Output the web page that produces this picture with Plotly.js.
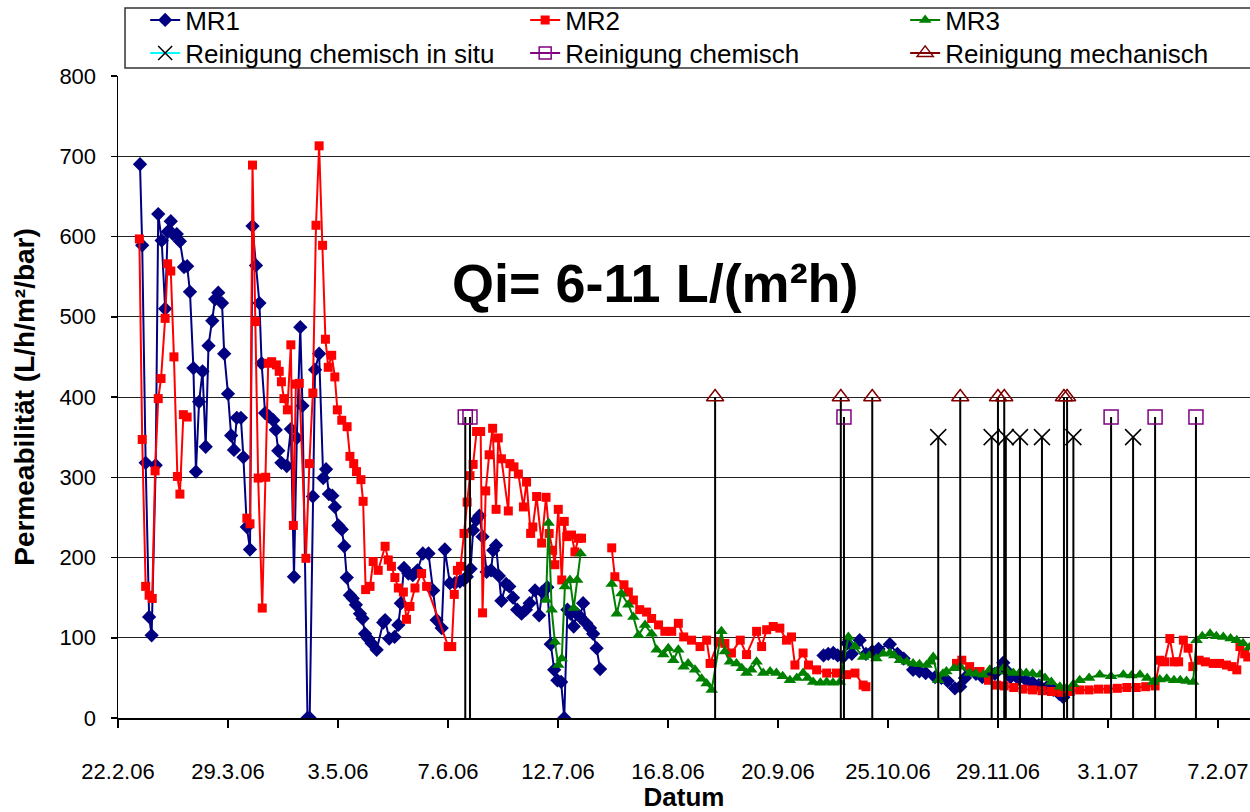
<!DOCTYPE html>
<html><head><meta charset="utf-8">
<script src="https://cdn.plot.ly/plotly-3.0.1.min.js"></script>
<style>html,body{margin:0;padding:0;background:#fff}#chart{width:1250px;height:812px}</style>
</head><body><div id="chart"></div>
<script>
// x values: days since 22.2.06 (start of x axis)
const tickDays = [0,35,70,105,140,175,210,245,280,315,350];
const tickLabels = ['22.2.06','29.3.06','3.5.06','7.6.06','12.7.06','16.8.06','20.9.06','25.10.06','29.11.06','3.1.07','7.2.07'];

const mr1Day = [7,7.7,8.8,9.9,10.7,12,12.8,13.9,15,15.8,16.8,17.5,18.7,19.7,21,22,22.9,24,24.8,25.8,26.9,27.9,28.8,30,30.9,31.9,33.1,33.8,35,36,36.9,37.8,39.1,39.9,41,42,42.8,43.9,45,45.7,46.8,48,49.4,50.2,51,52,53.7,55,56,56.9,58,58.7,60.3,61,62,62.7,64,65.3,66.2,67.1,68.2,69,70.1,71.2,72,72.8,73.8,74.7,75.7,77,77.8,78.6,79.6,80.7,82.3,84.4,85,86.3,88,89.2,90,91,92.4,93.8,95.3,97,98.8,100.3,101.4,103,104,105.6,107.2,108.8,110,111,112.2,113,114,115,116,117.3,118.7,119.4,120.3,121.2,122,123.5,124.5,125.7,127,128.4,129.8,131,132.7,134,135,136.6,137.7,138.8,139.8,141,142,143,144,145,146,147,148,149,150.2,151.2,152.3,153.4,null,224.5,226,227.6,229,230.7,232,233.5,236,238,240,242,245.6,248,250,253,255,257,260,262,264,266.3,268,269.5,271,273,275,277,279,281.7,283,284,286.5,289,291,293,295.5,297.6,299.5,300.8];
const mr1Val = [690,589,318,126,103,315,628,595,510,606,619,603,603,594,562,563,531,436,307,394,432,338,464,495,522,530,517,454,404,352,334,374,374,325,238,210,613,564,517,442,380,376,371,359,333,318,314,360,176,349,487,389,0,0,276,434,454,299,310,279,277,263,240,235,214,175,153,149,141,130,124,105,99,93,85,119,122,99,101,116,143,187,180,178,184,205,205,159,122,112,210,168,168,170,172,176,186,234,247,252,226,182,184,209,215,177,146,167,164,150,135,130,135,143,159,128,157,163,92,60,47,45,0,135,130,114,130,126,143,118,112,105,87,61,null,78,80,81,78,76,93,80,97,80,83,86,92,80,74,60,58,56,51,50,46,37,39,50,60,55,51,52,55,69,58,51,49,47,44,41,38,35,30,26];

const mr2Day = [6.8,7.7,8.8,9.9,10.9,11.8,12.8,13.7,15,15.8,16.8,17.8,18.9,19.7,20.8,22,null,41,42,42.8,43.8,44.6,45.9,47,47.8,48.9,50.4,51.3,52,52.8,53.9,55,55.8,56.6,57.7,59.8,60.9,62,63,64,65.1,66,66.9,68,69,69.8,71.2,72.9,73.8,75,75.9,77.3,78,78.8,80.2,81.2,82.8,85,86,87,88.1,89.2,90.8,91.8,92.9,94.5,96.6,98.2,105.1,106.2,107,108,109,110.1,111.1,112,113,114.1,115.4,116,117,118.1,119.2,120.3,121,122,124.2,124.7,126,127.4,129,130,131.3,132,133.2,134.8,136.2,137.2,138.3,139,140.1,141.2,142,142.8,144.3,145.4,146.5,147.5,null,157.1,158.1,161,162.4,164,166,168.2,169.8,172,174,176.2,178.3,180,182.5,185.2,187.3,188.4,191,193.1,195.2,198,200,203.2,204.8,206.4,208.5,210.6,212.7,214.3,215.4,218,219.7,222.3,225.5,228.6,231.8,234.5,237.1,238,null,266.8,268.5,271,274.3,277,279.5,282,285,288,291,294,297,300,303,306,309,312,315,318,321,324,327,330,331.5,333,334.7,336,337.5,339,340.5,342,344,346,348.5,350.5,352.7,354.5,356,357,358.5,359.5];
const mr2Val = [597,347,164,153,149,308,398,423,498,566,557,450,301,279,378,375,null,249,242,689,494,299,137,300,442,444,440,432,419,398,384,465,240,416,417,199,317,405,614,713,589,472,437,452,425,384,371,363,326,317,307,297,270,160,164,195,184,214,197,189,175,162,157,123,139,162,180,164,89,89,154,184,189,230,269,302,316,357,357,131,283,328,361,260,349,323,258,317,313,304,263,294,230,238,276,218,275,230,209,191,260,172,245,226,228,207,224,224,null,212,176,166,157,147,135,132,124,116,108,108,118,101,97,89,97,68,95,93,81,97,79,108,89,110,114,112,97,101,66,81,66,60,56,56,54,56,41,39,null,68,72,64,58,47,41,40,38,36,35,34,33,32,33,35,35,36,36,37,38,38,39,40,72,70,99,70,70,97,87,64,72,70,68,68,66,64,60,89,80,76];

const mr3Day = [136.2,137,138,139,140.1,141.2,142.2,143.8,145,146.1,147.2,null,157.1,158.7,160.2,162.4,164,165.6,167.7,169.8,171.4,173.5,175.1,176.7,178.3,180,181.4,183.6,185.7,187.3,188.9,192,193.1,194.7,196.8,198.5,200,201.5,203.2,205.3,207.5,209.5,211.5,213.8,216,218,219.5,221.2,223.5,225.5,227.5,229.7,232.4,234.5,237.1,239,241.3,243.5,245.6,247,248.8,251,253,255,257.3,258.5,259.4,261,262.5,263.6,266,268,271,273,275.3,277.4,279.5,281.7,283,284.9,287,289,291,293.4,295,297,299.7,301.8,304,306,309,312.4,316,319.9,322.5,325.2,327.5,329.4,331.5,333.7,336,338,340,342.1,343.2,345,347.5,349.5,351.7,354,356,358,360];
const mr3Val = [147,243,135,95,66,74,164,172,137,172,205,null,167,130,155,141,126,103,116,105,85,79,87,72,85,64,68,60,49,43,35,108,83,70,68,62,56,60,70,56,58,56,52,47,50,56,50,45,44,45,44,45,101,89,76,78,74,80,81,78,72,70,68,67,66,70,76,47,55,58,62,64,56,55,54,60,58,62,58,56,57,56,55,54,50,45,39,37,42,47,50,54,52,54,53,54,50,45,48,49,47,47,46,45,97,102,105,102,101,99,97,93,88];

// cleaning events
const inSituDay = [261,278,282.5,287,294,304,323];
const inSituVal = [350,350,350,350,350,350,350];
const chemDay = [110.5,112,231,316,330,343];
const chemVal = [375,375,375,375,375,375];
const mechDay = [190,230,240,268,280,282,301,302];
const mechVal = [400,400,400,400,400,400,400,400];

const FONT = 'Liberation Sans, Arial, Helvetica, sans-serif';

function dropLines(vals){
  return {type:'data', symmetric:false, array: vals.map(() => 0), arrayminus: vals,
          color:'#000000', thickness:2, width:0};
}

const traces = [
  {x: mr1Day, y: mr1Val, name:'MR1', mode:'lines+markers', legend:'legend',
   line:{color:'#000080', width:2}, marker:{symbol:'diamond', size:11, color:'#000080'}, legendwidth:335},
  {x: mr2Day, y: mr2Val, name:'MR2', mode:'lines+markers', legend:'legend',
   line:{color:'#FF0000', width:2}, marker:{symbol:'square', size:9, color:'#FF0000'}, legendwidth:335},
  {x: mr3Day, y: mr3Val, name:'MR3', mode:'lines+markers', legend:'legend',
   line:{color:'#008000', width:2}, marker:{symbol:'triangle-up', size:11, color:'#008000'}, legendwidth:150},
  // legend-only entries
  {x:[null], y:[null], name:'Reinigung chemisch in situ', mode:'lines+markers', legend:'legend2',
   line:{color:'#00FFFF', width:2}, marker:{symbol:'x-thin-open', size:14, color:'#000000', line:{color:'#000000', width:1.5}}, legendwidth:335},
  {x:[null], y:[null], name:'Reinigung chemisch', mode:'lines+markers', legend:'legend2',
   line:{color:'#800080', width:2}, marker:{symbol:'square-open', size:12, color:'#800080', line:{color:'#800080', width:1.5}}, legendwidth:335},
  {x:[null], y:[null], name:'Reinigung mechanisch', mode:'lines+markers', legend:'legend2',
   line:{color:'#800000', width:2}, marker:{symbol:'triangle-up-open', size:14, color:'#800000', line:{color:'#800000', width:1.5}}, legendwidth:300},
  // events on plot
  {x: inSituDay, y: inSituVal, mode:'markers', showlegend:false, hoverinfo:'skip',
   marker:{symbol:'x-thin-open', size:16, color:'#000000', line:{color:'#000000', width:1.5}}, error_y: dropLines(inSituVal)},
  {x: chemDay, y: chemVal, mode:'markers', showlegend:false, hoverinfo:'skip',
   marker:{symbol:'square-open', size:14, color:'#800080', line:{color:'#800080', width:1.5}}, error_y: dropLines(chemVal)},
  {x: mechDay, y: mechVal, mode:'markers', showlegend:false, hoverinfo:'skip',
   marker:{symbol:'triangle-up-open', size:15, color:'#800000', line:{color:'#800000', width:1.5}}, error_y: dropLines(mechVal)}
];

const layout = {
  width:1250, height:812,
  margin:{l:118, r:0, t:76, b:94, autoexpand:false},
  paper_bgcolor:'#ffffff', plot_bgcolor:'#ffffff',
  font:{family:FONT, color:'#000000', size:22},
  showlegend:true,
  legend:{orientation:'h', x:0.024, xanchor:'left', y:1.0872, yanchor:'middle',
          bgcolor:'rgba(0,0,0,0)', borderwidth:0, font:{family:FONT, size:26, color:'#000'},
          entrywidthmode:'pixels', traceorder:'normal'},
  legend2:{orientation:'h', x:0.024, xanchor:'left', y:1.0358, yanchor:'middle',
          bgcolor:'rgba(0,0,0,0)', borderwidth:0, font:{family:FONT, size:26, color:'#000'},
          entrywidthmode:'pixels', traceorder:'normal'},
  xaxis:{range:[0,360.2], tickmode:'array', tickvals:tickDays, ticktext:tickLabels,
         showgrid:false, zeroline:false, showline:true, linecolor:'#000', linewidth:1.5,
         ticks:'outside', ticklen:8, tickwidth:1.5, tickcolor:'#000',
         tickfont:{family:FONT, size:22, color:'#000'}, ticklabelstandoff:25,
         title:{text:'<b>Datum</b>', font:{family:FONT, size:26, color:'#000'}, standoff:7}},
  yaxis:{range:[0,800], dtick:100, tick0:0, showgrid:true, gridcolor:'#222', gridwidth:1,
         zeroline:false, showline:true, linecolor:'#000', linewidth:1.5,
         ticks:'outside', ticklen:6, tickwidth:1.5, tickcolor:'#000',
         tickfont:{family:FONT, size:22, color:'#000'}, ticklabelstandoff:10,
         title:{text:'<b>Permeabilität (L/h/m²/bar)</b>', font:{family:FONT, size:28, color:'#000'}, standoff:16}},
  shapes:[{type:'rect', xref:'paper', yref:'paper', x0:0.0062, x1:1.02, y0:1.0125, y1:1.106,
           line:{color:'#333', width:1.5}, fillcolor:'rgba(0,0,0,0)'}],
  annotations:[{text:'<b>Qi= 6-11 L/(m²h)</b>', xref:'paper', yref:'paper', x:0.475, y:0.728,
                showarrow:false, font:{family:FONT, size:54, color:'#000'}}]
};

Plotly.newPlot('chart', traces, layout, {displayModeBar:false, staticPlot:true});
</script>
</body></html>
